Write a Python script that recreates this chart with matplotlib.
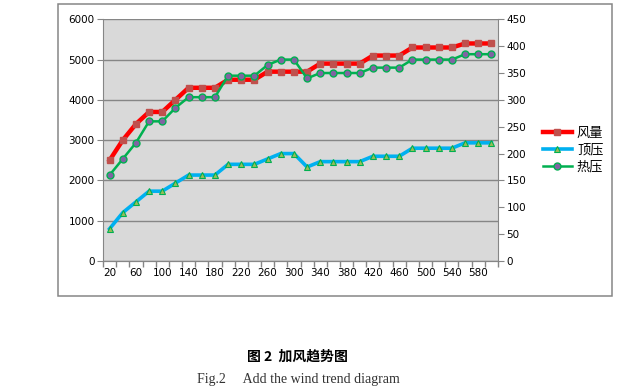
import matplotlib
matplotlib.use("Agg")
import matplotlib.pyplot as plt
from matplotlib.patches import Rectangle
from matplotlib.lines import Line2D
import numpy as np

plt.rcParams['font.family'] = ['DejaVu Sans', 'Noto Sans CJK SC']

categories = list(range(20, 601, 20))
tick_labels = [str(c) if i % 2 == 0 else "" for i, c in enumerate(categories)]
wind = [2500, 3000, 3400, 3700, 3700, 4000, 4300, 4300, 4300, 4500, 4500, 4500,
        4700, 4700, 4700, 4700, 4900, 4900, 4900, 4900, 5100, 5100, 5100,
        5300, 5300, 5300, 5300, 5400, 5400, 5400]
top_press = [60, 90, 110, 130, 130, 145, 160, 160, 160, 180, 180, 180, 190, 200, 200,
             175, 185, 185, 185, 185, 195, 195, 195, 210, 210, 210, 210, 220, 220, 220]
heat_press = [160, 190, 220, 260, 260, 285, 305, 305, 305, 345, 345, 345, 365, 375, 375,
              340, 350, 350, 350, 350, 360, 360, 360, 375, 375, 375, 375, 385, 385, 385]
series_names = ["风量", "顶压", "热压"]

W, H = 642, 390
fig = plt.figure(figsize=(W / 100, H / 100), dpi=100)

# outer chart border
fig.patches.append(Rectangle((58 / W, 1 - 296 / H), (612 - 58) / W, (296 - 4) / H,
                             transform=fig.transFigure, fill=False,
                             edgecolor="#868686", linewidth=1.1))

ax = fig.add_axes([103 / W, 1 - 261 / H, (498 - 103) / W, (261 - 19.3) / H])
ax.set_facecolor("#d9d9d9")
ax2 = ax.twinx()

x = np.arange(len(categories))
ax.set_xlim(-0.5, len(categories) - 0.5)
ax.set_ylim(0, 6000)
ax2.set_ylim(0, 450)
ax.set_yticks(np.arange(0, 6001, 1000))
ax2.set_yticks(np.arange(0, 451, 50))

ax.grid(axis="y", color="#868686", linewidth=1.0)
ax.set_axisbelow(True)

for a in (ax, ax2):
    for s in a.spines.values():
        s.set_color("#868686")
    a.spines["top"].set_visible(False)
ax.spines["right"].set_visible(False)
ax2.spines["left"].set_visible(False)

ax.set_xticks(np.arange(-0.5, len(categories), 1), minor=False)
ax.set_xticklabels([""] * (len(categories) + 1))
ax.set_xticks(x, minor=True)
ax.set_xticklabels(tick_labels, minor=True)
ax.tick_params(axis="x", which="major", length=4, color="#868686", width=1)
ax.tick_params(axis="x", which="minor", length=0, labelsize=7.5, pad=5)
ax.tick_params(axis="y", length=4, color="#868686", labelsize=7.5, pad=2)
ax2.tick_params(axis="y", length=4, color="#868686", labelsize=7.5, pad=2)

ax.plot(x, wind, color="#ff0000", linewidth=3.2, marker="s", markersize=4.5,
        markerfacecolor="#c0504d", markeredgecolor="#c0504d", zorder=3)
ax2.plot(x, top_press, color="#00b0f0", linewidth=2.6, marker="^", markersize=4,
         markerfacecolor="#9bbb59", markeredgecolor="#00b050", markeredgewidth=0.8, zorder=3)
ax2.plot(x, heat_press, color="#00b050", linewidth=1.8, marker="o", markersize=5,
         markerfacecolor="#8064a2", markeredgecolor="#00b050", markeredgewidth=1.0, zorder=4)

handles = [
    Line2D([], [], color="#ff0000", linewidth=3.2, marker="s", markersize=4.5,
           markerfacecolor="#c0504d", markeredgecolor="#c0504d"),
    Line2D([], [], color="#00b0f0", linewidth=2.6, marker="^", markersize=4,
           markerfacecolor="#9bbb59", markeredgecolor="#00b050", markeredgewidth=0.8),
    Line2D([], [], color="#00b050", linewidth=1.8, marker="o", markersize=5,
           markerfacecolor="#8064a2", markeredgecolor="#00b050"),
]
fig.legend(handles, series_names, loc="center left",
           bbox_to_anchor=(536 / W, 1 - 150 / H), frameon=False,
           prop={"family": ["Noto Sans CJK SC"], "size": 9.5},
           handlelength=2.2, handletextpad=0.4, labelspacing=0.3, borderpad=0)

fig.text(297 / W, 1 - 357 / H, "图 2  加风趋势图", ha="center", va="center",
         fontsize=10, fontweight="bold", family=["Noto Sans CJK SC"])
fig.text(197 / W, 1 - 380 / H, "Fig.2     Add the wind trend diagram", ha="left", va="center",
         fontsize=10, family=["Liberation Serif"], color="#333333")

fig.savefig("out.png", dpi=100)
